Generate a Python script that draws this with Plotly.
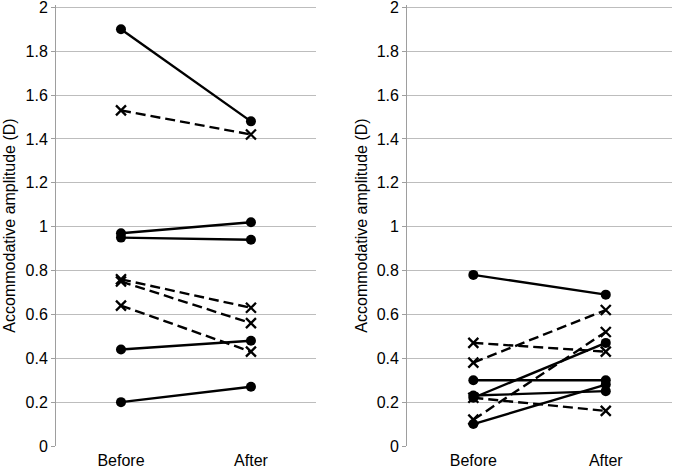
import plotly.graph_objects as go
from plotly.subplots import make_subplots

categories = ["Before", "After"]
y_ticks = [0, 0.2, 0.4, 0.6, 0.8, 1, 1.2, 1.4, 1.6, 1.8, 2]
y_ticktext = ["0", "0.2", "0.4", "0.6", "0.8", "1", "1.2", "1.4", "1.6", "1.8", "2"]
y_title = "Accommodative amplitude (D)"

left_solid_before = [1.90, 0.97, 0.95, 0.44, 0.20]
left_solid_after = [1.48, 1.02, 0.94, 0.48, 0.27]
left_dash_before = [1.53, 0.76, 0.75, 0.64]
left_dash_after = [1.42, 0.63, 0.56, 0.43]

right_solid_before = [0.78, 0.30, 0.22, 0.23, 0.10]
right_solid_after = [0.69, 0.30, 0.47, 0.25, 0.28]
right_dash_before = [0.47, 0.38, 0.12, 0.22]
right_dash_after = [0.43, 0.62, 0.52, 0.16]

fig = make_subplots(rows=1, cols=2)

def add_pairs(before, after, dashed, col):
    for b, a in zip(before, after):
        fig.add_trace(go.Scatter(
            x=[0, 1], y=[b, a], mode="lines+markers",
            line=dict(color="black", width=2.4, dash="10px,5px" if dashed else "solid"),
            marker=dict(
                symbol="x-thin-open" if dashed else "circle",
                size=10,
                color="black",
                line=dict(color="black", width=2.3 if dashed else 0),
            ),
            showlegend=False, hoverinfo="skip",
        ), row=1, col=col)

add_pairs(left_solid_before, left_solid_after, False, 1)
add_pairs(left_dash_before, left_dash_after, True, 1)
add_pairs(right_solid_before, right_solid_after, False, 2)
add_pairs(right_dash_before, right_dash_after, True, 2)

font = "Liberation Sans, Arial, sans-serif"
for col, dom in [(1, [0, 0.422]), (2, [0.570, 1.0])]:
    fig.update_xaxes(
        domain=dom, range=[-0.5, 1.5], tickvals=[0, 1], ticktext=categories,
        showgrid=False, zeroline=False, showline=False, ticks="",
        ticklabelstandoff=3, automargin=False, ticklabeloverflow="allow",
        tickfont=dict(family=font, size=16, color="black"),
        row=1, col=col,
    )
    fig.update_yaxes(
        range=[0, 2.0105], tickvals=y_ticks, ticktext=y_ticktext,
        showgrid=True, gridcolor="#bdbdbd", gridwidth=1,
        zeroline=False, showline=True, linecolor="#9e9e9e", linewidth=1,
        ticks="outside", ticklen=4, tickcolor="#9e9e9e",
        ticklabeloverflow="allow", automargin=False,
        tickfont=dict(family=font, size=16, color="black"),
        title=dict(text=y_title, font=dict(family=font, size=16, color="black"), standoff=5),
        row=1, col=col,
    )

fig.update_layout(
    width=675, height=468,
    margin=dict(l=56, r=3, t=5, b=22),
    plot_bgcolor="white", paper_bgcolor="white",
)

fig.write_html(
    "out.html",
    config={"displayModeBar": False},
    post_script="document.body.style.margin='0';document.body.style.padding='0';",
)
